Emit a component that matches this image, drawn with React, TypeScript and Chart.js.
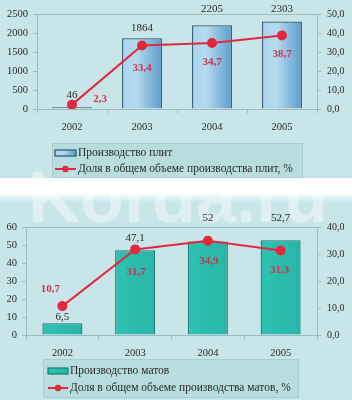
import React, { useEffect, useRef } from 'react';
import { Chart, registerables } from 'chart.js';

Chart.register(...registerables);

const categories = ['2002', '2003', '2004', '2005'];

const plateOutput = [46, 1864, 2205, 2303];
const plateShare = [2.3, 33.4, 34.7, 38.7];
const plateLabels = ['Производство плит', 'Доля в общем объеме производства плит, %'];

const matOutput = [6.5, 47.1, 52, 52.7];
const matShare = [10.7, 31.7, 34.9, 31.3];
const matLabels = ['Производство матов', 'Доля в общем объеме производства матов, %'];

const plateAxis = { max: 2500, step: 500 };
const plateShareAxis = { max: 50, step: 10 };
const matAxis = { max: 60, step: 10 };
const matShareAxis = { max: 40, step: 10 };

const FONT = '"Liberation Serif", "DejaVu Serif", serif';
const BG = '#c8e6ea';
const FRAME = '#9dbabd';
const RED = '#e2283d';
const TEXT = '#2a2a2a';

const comma = (v: number) => String(v).replace('.', ',');
const comma1 = (v: number) => v.toFixed(1).replace('.', ',');

type LabelCfg = {
  barDy: number[];
  lineDx: number[];
  lineDy: number[];
};

type LegendCfg = {
  box: [number, number, number, number];
  rows: [number, number];
  symX: number;
  symW: number;
  textX: number;
};

function makeChart(
  canvas: HTMLCanvasElement,
  bars: number[],
  share: number[],
  names: string[],
  leftAxis: { max: number; step: number },
  rightAxis: { max: number; step: number },
  geom: { left: number; right: number; top: number; xh: number; padBottom: number; barPct: number },
  labelCfg: LabelCfg,
  legendCfg: LegendCfg,
  barFill: (ctx: CanvasRenderingContext2D, x0: number, x1: number) => string | CanvasGradient,
  barBorder: string,
  solid: string
) {
  const frame = {
    id: 'frame',
    beforeDatasetsDraw(chart: any) {
      const { ctx, chartArea: a } = chart;
      ctx.save();
      ctx.strokeStyle = FRAME;
      ctx.lineWidth = 1;
      ctx.strokeRect(Math.round(a.left) + 0.5, Math.round(a.top) + 0.5, Math.round(a.right - a.left), Math.round(a.bottom - a.top));
      ctx.restore();
    },
  };

  const valueLabels = {
    id: 'valueLabels',
    afterDatasetsDraw(chart: any) {
      const { ctx } = chart;
      ctx.save();
      ctx.textAlign = 'center';
      ctx.textBaseline = 'middle';
      const barMeta = chart.getDatasetMeta(1);
      ctx.font = `11px ${FONT}`;
      ctx.fillStyle = TEXT;
      barMeta.data.forEach((el: any, i: number) => {
        ctx.fillText(comma(bars[i]), el.x, el.y + labelCfg.barDy[i]);
      });
      const lineMeta = chart.getDatasetMeta(0);
      ctx.font = `bold 11px ${FONT}`;
      ctx.fillStyle = '#d0304a';
      lineMeta.data.forEach((el: any, i: number) => {
        ctx.fillText(comma1(share[i]), el.x + labelCfg.lineDx[i], el.y + labelCfg.lineDy[i]);
      });
      ctx.restore();
    },
  };

  const legend = {
    id: 'customLegend',
    afterDraw(chart: any) {
      const { ctx } = chart;
      const [bx, by, bw, bh] = legendCfg.box;
      ctx.save();
      ctx.fillStyle = 'rgba(170, 214, 212, 0.55)';
      ctx.fillRect(bx, by, bw, bh);
      ctx.strokeStyle = '#a9cccc';
      ctx.lineWidth = 1;
      ctx.strokeRect(bx + 0.5, by + 0.5, bw, bh);
      const sx = legendCfg.symX;
      const sw = legendCfg.symW;
      const r0 = legendCfg.rows[0];
      ctx.fillStyle = barFill(ctx, sx, sx + sw);
      ctx.fillRect(sx, r0 - 3, sw, 6);
      ctx.strokeStyle = barBorder;
      ctx.lineWidth = 1.2;
      ctx.strokeRect(sx, r0 - 3, sw, 6);
      const r1 = legendCfg.rows[1];
      ctx.strokeStyle = RED;
      ctx.lineWidth = 2;
      ctx.beginPath();
      ctx.moveTo(sx, r1);
      ctx.lineTo(sx + sw, r1);
      ctx.stroke();
      ctx.fillStyle = RED;
      ctx.beginPath();
      ctx.arc(sx + sw / 2, r1, 3.2, 0, Math.PI * 2);
      ctx.fill();
      ctx.font = `11.5px ${FONT}`;
      ctx.fillStyle = TEXT;
      ctx.textAlign = 'left';
      ctx.textBaseline = 'middle';
      ctx.fillText(names[0], legendCfg.textX, r0);
      ctx.fillText(names[1], legendCfg.textX, r1);
      ctx.restore();
    },
  };

  const tickFont = { family: FONT, size: 10.5 };
  const rightFont = { family: FONT, size: 10 };

  return new Chart(canvas, {
    type: 'bar',
    data: {
      labels: categories,
      datasets: [
        {
          type: 'line',
          label: names[1],
          data: share,
          yAxisID: 'y1',
          borderColor: RED,
          backgroundColor: RED,
          borderWidth: 2,
          pointRadius: 4,
          pointBackgroundColor: RED,
          pointBorderColor: RED,
          order: 0,
        } as any,
        {
          type: 'bar',
          label: names[0],
          data: bars,
          yAxisID: 'y',
          order: 1,
          categoryPercentage: 1,
          barPercentage: geom.barPct,
          borderColor: barBorder,
          borderWidth: 1.3,
          backgroundColor: (c: any) => {
            const chart = c.chart;
            const xs = chart.scales && chart.scales.x;
            if (c.dataIndex === undefined || !xs) return solid;
            const cx = xs.getPixelForValue(c.dataIndex);
            const half = (xs.width / categories.length) * geom.barPct / 2;
            if (!isFinite(cx) || !isFinite(half) || half <= 0) return solid;
            return barFill(chart.ctx, cx - half, cx + half);
          },
        } as any,
      ],
    },
    options: {
      responsive: false,
      animation: false,
      devicePixelRatio: 1,
      layout: { padding: { top: geom.top, bottom: geom.padBottom, left: 0, right: 0 } },
      plugins: {
        legend: { display: false },
        tooltip: { enabled: false },
        title: { display: false },
      },
      scales: {
        x: {
          offset: true,
          grid: { drawOnChartArea: false, tickLength: 4, color: FRAME, offset: true },
          border: { display: false },
          ticks: { font: tickFont, color: TEXT, padding: 8 },
          afterFit: (s: any) => { s.height = geom.xh; },
        },
        y: {
          position: 'left',
          min: 0,
          max: leftAxis.max,
          grid: { drawOnChartArea: false, tickLength: 4, color: FRAME },
          border: { display: false },
          ticks: {
            stepSize: leftAxis.step,
            font: tickFont,
            color: TEXT,
            padding: 5,
            callback: (v: any) => String(v),
          },
          afterFit: (s: any) => { s.width = geom.left; },
        },
        y1: {
          position: 'right',
          min: 0,
          max: rightAxis.max,
          grid: { drawOnChartArea: false, tickLength: 4, color: FRAME },
          border: { display: false },
          ticks: {
            stepSize: rightAxis.step,
            font: rightFont,
            color: TEXT,
            padding: 6,
            callback: (v: any) => comma1(Number(v)),
          },
          afterFit: (s: any) => { s.width = geom.right; },
        },
      },
    } as any,
    plugins: [frame, valueLabels, legend],
  });
}

const blueFill = (ctx: CanvasRenderingContext2D, x0: number, x1: number) => {
  const g = ctx.createLinearGradient(x0, 0, x1, 0);
  g.addColorStop(0, '#a9d3ec');
  g.addColorStop(0.35, '#b6dbef');
  g.addColorStop(1, '#5e9ccb');
  return g;
};

const tealFill = (ctx: CanvasRenderingContext2D, x0: number, x1: number) => {
  const g = ctx.createLinearGradient(x0, 0, x1, 0);
  g.addColorStop(0, '#2fc2b3');
  g.addColorStop(1, '#27b5a7');
  return g;
};

export default function App() {
  const topRef = useRef<HTMLCanvasElement>(null);
  const botRef = useRef<HTMLCanvasElement>(null);

  useEffect(() => {
    const c1 = makeChart(
      topRef.current!,
      plateOutput,
      plateShare,
      plateLabels,
      plateAxis,
      plateShareAxis,
      { left: 37, right: 35, top: 14, xh: 30, padBottom: 39, barPct: 0.57 },
      { barDy: [-12, -10, -16, -12], lineDx: [28, 0, 0, 0], lineDy: [-5, 23, 19, 19] },
      { box: [52, 143, 250, 34], rows: [153, 169], symX: 55, symW: 21, textX: 78 },
      blueFill,
      '#2c5571',
      '#8fc0e0'
    );
    const c2 = makeChart(
      botRef.current!,
      matOutput,
      matShare,
      matLabels,
      matAxis,
      matShareAxis,
      { left: 26, right: 35, top: 34, xh: 30, padBottom: 35, barPct: 0.55 },
      { barDy: [-6, -12, -23, -22], lineDx: [-12, 1, 1, -1], lineDy: [-17, 23, 20, 20] },
      { box: [43, 166, 255, 38], rows: [178, 195], symX: 48, symW: 20, textX: 70 },
      tealFill,
      '#157b73',
      '#2dbfb0'
    );
    return () => {
      c1.destroy();
      c2.destroy();
    };
  }, []);

  return (
    <div style={{ position: 'absolute', left: 0, top: 0, width: 352, height: 400, background: '#ffffff', overflow: 'hidden' }}>
      <div style={{ position: 'absolute', left: 0, top: 0, width: 352, height: 178, background: BG }} />
      <div
        style={{
          position: 'absolute',
          left: 0,
          top: 193,
          width: 352,
          height: 207,
          background: `linear-gradient(to bottom, #ffffff 0px, ${BG} 9px, ${BG} 100%)`,
        }}
      />
      <div
        style={{
          position: 'absolute',
          left: 28,
          top: 152,
          fontFamily: '"Liberation Sans", Arial, sans-serif',
          fontWeight: 'bold',
          fontSize: 72,
          lineHeight: '90px',
          color: 'rgba(255,255,255,0.4)',
          whiteSpace: 'nowrap',
        }}
      >
        Korda.ru
      </div>
      <canvas ref={topRef} width={352} height={178} style={{ position: 'absolute', left: 0, top: 0, display: 'block' }} />
      <canvas ref={botRef} width={352} height={207} style={{ position: 'absolute', left: 0, top: 193, display: 'block' }} />
    </div>
  );
}
